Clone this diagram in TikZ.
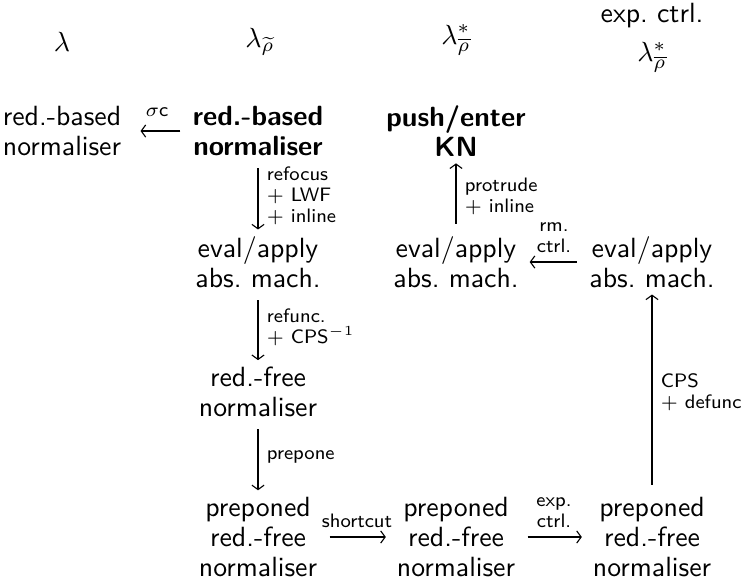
\documentclass[tikz,border=0pt]{standalone}
\usepackage{amsmath}
\usetikzlibrary{arrows.meta}
\begin{document}
\begin{tikzpicture}[x=0.36pt,y=-0.36pt,
  obj/.style={inner sep=0pt,outer sep=0pt,align=center,
    font=\sffamily\fontsize{10}{10.8}\selectfont},
  bobj/.style={obj,font=\sffamily\bfseries\fontsize{10}{10.8}\selectfont},
  hdr/.style={inner sep=0pt,align=center,font=\sffamily\fontsize{10}{12}\selectfont},
  lab/.style={inner sep=3pt,font=\sffamily\fontsize{7}{7.6}\selectfont,align=left},
  arr/.style={-{Straight Barb[length=1.6pt,width=4.4pt,line width=0.4pt]},line width=0.4pt,
    shorten <=4.5pt,shorten >=4pt}]
\useasboundingbox (0,0) rectangle (741,580);

% column headings
\node[hdr] (h1) at (62,42) {$\lambda$};
\node[hdr] (h2) at (260,42) {$\lambda_{\widetilde{\rho}}$};
\node[hdr] (h3) at (456,40) {$\lambda^{*}_{\overline{\rho}}$};
\node[hdr] (h4) at (652,38) {exp.\ ctrl.\\[2pt] $\lambda^{*}_{\overline{\rho}}$};

% first row
\node[obj]  (n1a) at (62,131)  {red.-based\\normaliser};
\node[bobj] (n1b) at (258,131) {red.-based\\normaliser};
\node[bobj] (n1c) at (456,131) {push/enter\\KN};

% second row
\node[obj] (n2b) at (258,262) {eval/apply\\abs.\ mach.};
\node[obj] (n2c) at (456,262) {eval/apply\\abs.\ mach.};
\node[obj] (n2d) at (652,262) {eval/apply\\abs.\ mach.};

% third row
\node[obj] (n3b) at (258,392) {red.-free\\normaliser};

% bottom row
\node[obj] (n4b) at (258,537) {preponed\\red.-free\\normaliser};
\node[obj] (n4c) at (456,537) {preponed\\red.-free\\normaliser};
\node[obj] (n4d) at (652,537) {preponed\\red.-free\\normaliser};

% transformations
\draw[arr,shorten >=7pt] (n1b) -- node[lab,above,yshift=2pt] {$\sigma$c} (n1a);
\draw[arr,shorten >=2.5pt] (n1b) -- node[lab,right] {refocus\\$+$ LWF\\$+$ inline} (n2b);
\draw[arr,shorten >=2.5pt] (n2b) -- node[lab,right] {refunc.\\$+$ CPS$^{-1}$} (n3b);
\draw[arr,shorten >=2.5pt] (n3b) -- node[lab,right] {prepone} (n4b);
\draw[arr,shorten >=2.5pt] (n2c) -- node[lab,right] {protrude\\$+$ inline} (n1c);
\draw[arr] (n2d) -- node[lab,above,align=center] {rm.\\ctrl.} (n2c);
\draw[arr,shorten >=2.5pt] (n4d) -- node[lab,right] {CPS\\$+$ defunc} (n2d);
\draw[arr] (n4b) -- node[lab,above] {shortcut} (n4c);
\draw[arr] (n4c) -- node[lab,above,align=center] {exp.\\ctrl.} (n4d);
\end{tikzpicture}
\end{document}
